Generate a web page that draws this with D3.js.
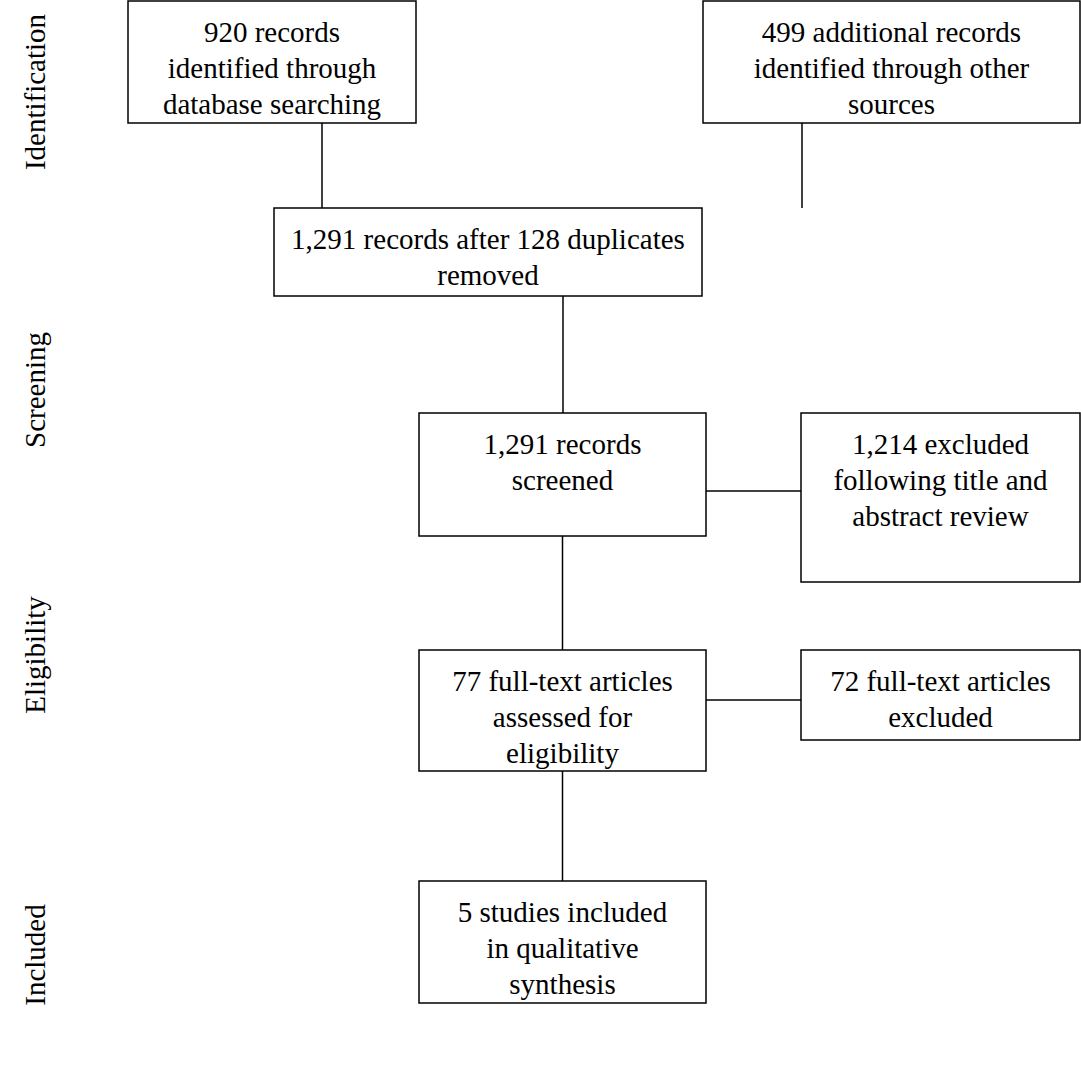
<!DOCTYPE html>
<html>
<head>
<meta charset="utf-8">
<script src="https://cdn.jsdelivr.net/npm/d3@7"></script>
<style>
  body { margin: 0; background: #fff; }
  svg text { font-family: "Liberation Serif", "Times New Roman", serif; font-size: 29px; fill: #000; }
</style>
</head>
<body>
<svg id="chart" width="1081" height="1068"></svg>
<script>
// stages and box texts
const stages = ["Identification", "Screening", "Eligibility", "Included"];
const boxTexts = [
  ["920 records", "identified through", "database searching"],
  ["499 additional records", "identified through other", "sources"],
  ["1,291 records after 128 duplicates", "removed"],
  ["1,291 records", "screened"],
  ["1,214 excluded", "following title and", "abstract review"],
  ["77 full-text articles", "assessed for", "eligibility"],
  ["72 full-text articles", "excluded"],
  ["5 studies included", "in qualitative", "synthesis"]
];
const links = [[0, 2, "v"], [1, 2, "v"], [2, 3, "v"], [3, 4, "h"], [3, 5, "v"], [5, 6, "h"], [5, 7, "v"]];

// layout
const layout = [
  { x: 128, y: 1, w: 288, h: 122, cx: 322 },
  { x: 703, y: 1, w: 377, h: 122, cx: 802 },
  { x: 274, y: 208, w: 428, h: 88, cx: 563 },
  { x: 419, y: 413, w: 287, h: 123, hy: 491 },
  { x: 801, y: 413, w: 279, h: 169 },
  { x: 419, y: 650, w: 287, h: 121, hy: 700 },
  { x: 801, y: 650, w: 279, h: 90 },
  { x: 419, y: 881, w: 287, h: 122 }
];
const stageY = d3.scaleOrdinal().domain(stages).range([92, 390, 655, 955]);
const lineH = 36;

const svg = d3.select("#chart");

svg.selectAll("text.stage")
  .data(stages)
  .enter().append("text")
  .attr("class", "stage")
  .attr("text-anchor", "middle")
  .attr("transform", d => `translate(45, ${stageY(d)}) rotate(-90)`)
  .text(d => d);

const g = svg.append("g").attr("stroke", "#000").attr("stroke-width", 1.5);
links.forEach(([a, b, t]) => {
  const A = layout[a], B = layout[b];
  if (t === "v") {
    const x = A.cx || (A.x + A.w / 2);
    g.append("line").attr("x1", x).attr("x2", x).attr("y1", A.y + A.h).attr("y2", B.y);
  } else {
    g.append("line").attr("x1", A.x + A.w).attr("x2", B.x).attr("y1", A.hy).attr("y2", A.hy);
  }
});

const boxes = svg.selectAll("g.box")
  .data(boxTexts)
  .enter().append("g").attr("class", "box");

boxes.append("rect")
  .attr("x", (d, i) => layout[i].x)
  .attr("y", (d, i) => layout[i].y)
  .attr("width", (d, i) => layout[i].w)
  .attr("height", (d, i) => layout[i].h)
  .attr("fill", "#fff").attr("stroke", "#000").attr("stroke-width", 1.5);

boxes.each(function (d, i) {
  const L = layout[i];
  d3.select(this).selectAll("text")
    .data(d).enter().append("text")
    .attr("x", L.x + L.w / 2)
    .attr("y", (t, j) => L.y + 31 + j * lineH)
    .attr("dy", "0.35em")
    .attr("text-anchor", "middle")
    .text(t => t);
});
</script>
</body>
</html>
